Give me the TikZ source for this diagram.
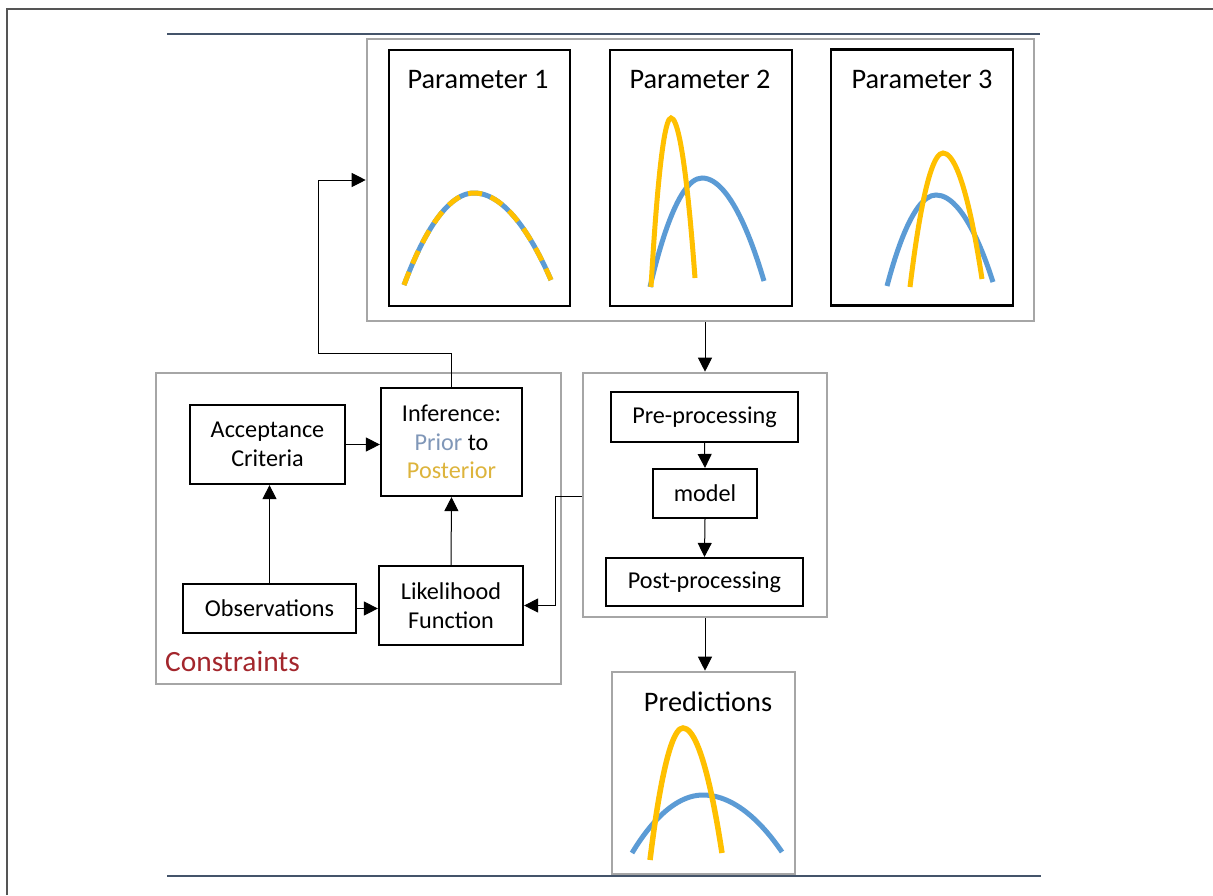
\documentclass[tikz,border=0pt]{standalone}
\usepackage{fontspec}
\setmainfont{Carlito}
\usetikzlibrary{arrows.meta}
\definecolor{frameline}{HTML}{555555}
\definecolor{rule}{HTML}{44546A}
\definecolor{groupgray}{HTML}{A6A6A6}
\definecolor{distblue}{HTML}{5B9BD5}
\definecolor{distgold}{HTML}{FFC000}
\definecolor{priorcol}{HTML}{8097B8}
\definecolor{postcol}{HTML}{DDB43C}
\definecolor{conred}{HTML}{A3262C}
\tikzset{
  group/.style={draw=groupgray, line width=2.6pt, fill=white, inner sep=0pt},
  box/.style={draw=black, line width=2.2pt, fill=white, inner sep=0pt, align=center,
    font=\fontsize{24.2}{28.5}\selectfont},
  panel/.style={draw=black, line width=2.2pt, fill=white, inner sep=0pt},
  title/.style={inner sep=0pt, font=\fontsize{28.3}{32}\selectfont},
  arr/.style={draw=black, line width=1pt, -{Triangle[length=14pt,width=14pt]}},
  prior/.style={draw=distblue, line width=5pt},
  post/.style={draw=distgold, line width=5pt},
}
\begin{document}
\begin{tikzpicture}[x=1pt,y=-1pt]
\useasboundingbox (0,0) rectangle (1213,895);
% page frame and rules
\draw[frameline, line width=1.6pt] (7,895) -- (7,9) -- (1213,9);
\draw[rule, line width=2.4pt] (167,34) -- (1040,34);
\draw[rule, line width=2.4pt] (167,876) -- (1041,876);

% parameter panels
\node[group, minimum width=667, minimum height=282] (params) at (700.5,180) {};
\node[panel, minimum width=181, minimum height=256] (p1) at (479.5,178) {};
\node[panel, minimum width=182, minimum height=256] (p2) at (701,178) {};
\node[panel, minimum width=182, minimum height=256] (p3) at (922,177.5) {};
\node[title] (t1) at (478,79) {Parameter 1};
\node[title] (t2) at (700,79) {Parameter 2};
\node[title] (t3) at (922,79) {Parameter 3};

% parameter 1: prior and posterior coincide
\draw[prior] (404,285) parabola bend (474,193) (551,280);
\draw[post, dash pattern=on 14pt off 9pt] (404,285) parabola bend (474,193) (551,280);
% parameter 2
\draw[prior] (650,287) parabola bend (702,178) (764,281);
\draw[post] (651,287) parabola bend (671,118) (695,278);
% parameter 3
\draw[prior] (887,286) parabola bend (936,195) (993,282);
\draw[post] (910,287) parabola bend (943,153) (982,279);

% constraints group
\node[group, minimum width=405, minimum height=311] (cons) at (358.5,528.5) {};
\node[inner sep=0pt, anchor=west, text=conred, font=\fontsize{29.4}{32}\selectfont] (clabel) at (165,661) {Constraints};
\node[box, minimum width=155, minimum height=79] (accept) at (267.5,444.5) {Acceptance\\Criteria};
\node[box, minimum width=141, minimum height=108] (infer) at (451.5,442) {Inference:\\\textcolor{priorcol}{Prior} to\\\textcolor{postcol}{Posterior}};
\node[box, minimum width=173, minimum height=49] (obs) at (269.5,608.5) {Observations};
\node[box, minimum width=144, minimum height=79] (like) at (451,605.5) {Likelihood\\Function};

% processing group
\node[group, minimum width=244, minimum height=244] (proc) at (705,495) {};
\node[box, minimum width=187, minimum height=50] (pre) at (704.5,417) {Pre-processing};
\node[box, minimum width=104, minimum height=49] (model) at (705,493.5) {model};
\node[box, minimum width=197, minimum height=48] (postp) at (704.5,582) {Post-processing};

% predictions
\node[group, minimum width=183, minimum height=202] (pred) at (703.5,773) {};
\node[title] (tp) at (708,702) {Predictions};
\draw[prior] (632,853) parabola bend (703,795) (782,852);
\draw[post, line width=5.5pt] (650,860) parabola bend (683,728) (722,853);

% connectors
\coordinate (fbA) at (318,353);
\draw[arr] (infer.north) -- (infer.north |- fbA) -- (fbA) |- (params.west);
\draw[arr] (proc.north |- params.south) -- (proc.north);
\draw[arr] (pre.south) -- (model.north);
\draw[arr] (model.south) -- (postp.north);
\draw[arr] (proc.south) -- (proc.south |- pred.north);
\draw[arr] (accept.east) -- (accept.east -| infer.west);
\draw[arr] (obs.north) -- (obs.north |- accept.south);
\draw[arr] (obs.east) -- (obs.east -| like.west);
\draw[arr] (like.north) -- (infer.south);
\coordinate (lkA) at (555,496);
\draw[arr] (proc.west |- lkA) -- (lkA) |- (like.east);
\end{tikzpicture}
\end{document}
